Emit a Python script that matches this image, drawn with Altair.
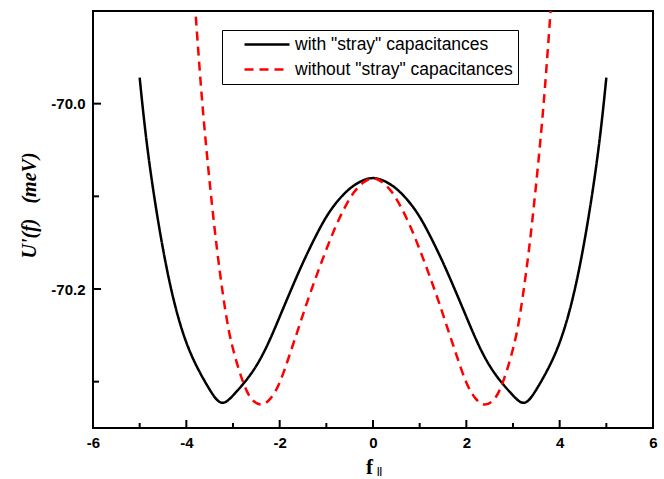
import altair as alt
import pandas as pd

# ---- data ----
F_WITH = [-5.0, -4.9, -4.75, -4.5, -4.25, -4.0, -3.75, -3.5, -3.25, -3.0, -2.75, -2.5,
          -2.25, -2.0, -1.75, -1.5, -1.25, -1.0, -0.75, -0.5, -0.25, 0.0,
          0.25, 0.5, 0.75, 1.0, 1.25, 1.5, 1.75, 2.0, 2.25, 2.5, 2.75, 3.0, 3.25,
          3.5, 3.75, 4.0, 4.25, 4.5, 4.75, 4.9, 5.0]
U_WITH = [-69.972, -70.022, -70.082, -70.160, -70.219, -70.260, -70.287, -70.309, -70.328,
          -70.315, -70.301, -70.284, -70.260, -70.230, -70.200, -70.171, -70.145, -70.121,
          -70.104, -70.091, -70.083, -70.079,
          -70.083, -70.091, -70.104, -70.121, -70.145, -70.171, -70.200, -70.230, -70.260,
          -70.284, -70.301, -70.315, -70.328, -70.309, -70.287, -70.260, -70.219, -70.160,
          -70.082, -70.022, -69.972]

F_WITHOUT = [-3.82, -3.72, -3.65, -3.56, -3.46, -3.34, -3.22, -3.1, -2.95, -2.8, -2.7, -2.6,
             -2.4, -2.2, -2.0, -1.8, -1.6, -1.4, -1.2, -1.0, -0.8, -0.6, -0.4, -0.2, 0.0,
             0.2, 0.4, 0.6, 0.8, 1.0, 1.2, 1.4, 1.6, 1.8, 2.0, 2.2, 2.4, 2.6, 2.7, 2.8,
             2.95, 3.1, 3.22, 3.34, 3.46, 3.56, 3.65, 3.72, 3.82]
U_WITHOUT = [-69.890, -69.960, -70.005, -70.055, -70.105, -70.160, -70.205, -70.245, -70.275,
             -70.299, -70.311, -70.320, -70.327, -70.320, -70.303, -70.273, -70.243, -70.212,
             -70.184, -70.157, -70.132, -70.111, -70.094, -70.084, -70.079,
             -70.084, -70.094, -70.111, -70.132, -70.157, -70.184, -70.212, -70.243, -70.273,
             -70.303, -70.320, -70.327, -70.320, -70.311, -70.299, -70.275, -70.245, -70.205,
             -70.160, -70.105, -70.055, -70.005, -69.960, -69.890]

SERIES = ['with "stray" capacitances', 'without "stray" capacitances']
COLORS = ["#000000", "#ff0000"]
DASHES = [[1, 0], [9, 6]]

X_MAJOR = [-6, -4, -2, 0, 2, 4, 6]
X_MINOR = [-5, -3, -1, 1, 3, 5]
Y_MAJOR = [-70.0, -70.2]
Y_MINOR = [-70.1, -70.3]
X_DOMAIN = [-6, 6]
Y_DOMAIN = [-70.35, -69.90]

X_TITLE = "f"
X_SUB = "||"
Y_TITLE = "U'(f)\u00a0\u00a0\u00a0(meV)"

rows = []
for f, u in zip(F_WITH, U_WITH):
    rows.append({"f": f, "U": u, "series": SERIES[0]})
for f, u in zip(F_WITHOUT, U_WITHOUT):
    rows.append({"f": f, "U": u, "series": SERIES[1]})
df = pd.DataFrame(rows)

W, H = 560, 417
xs = alt.Scale(domain=X_DOMAIN, nice=False, zero=False)
ys = alt.Scale(domain=Y_DOMAIN, nice=False, zero=False)

legend = alt.Legend(
    title=None, orient="none", legendX=129, legendY=19,
    symbolType="stroke", symbolSize=2025, symbolStrokeWidth=2.5,
    clipHeight=19, rowPadding=6, padding=5,
    strokeColor="black", fillColor="white",
    labelFont="Liberation Sans", labelFontSize=17.5, labelColor="black",
    labelLimit=400, symbolOffset=16, labelOffset=4,
)

lines = alt.Chart(df).mark_line(strokeWidth=2.5, interpolate="basis", clip=True).encode(
    x=alt.X("f:Q", scale=xs, axis=alt.Axis(
        values=X_MAJOR, format="d", ticks=False, domain=False, grid=False,
        labelFont="Liberation Sans", labelFontWeight="bold", labelFontSize=15,
        labelColor="black", labelPadding=7, labelFlush=False,
        title=X_TITLE, titleFont="Liberation Serif", titleFontWeight="bold",
        titleFontSize=21, titleColor="black", titlePadding=6, titleX=276)),
    y=alt.Y("U:Q", scale=ys, axis=alt.Axis(
        values=Y_MAJOR, format=".1f", ticks=False, domain=False, grid=False,
        labelFont="Liberation Sans", labelFontWeight="bold", labelFontSize=15,
        labelColor="black", labelPadding=8, labelFlush=False,
        title=Y_TITLE, titleFont="Liberation Serif", titleFontWeight="bold",
        titleFontStyle="italic", titleFontSize=20, titleColor="black", titlePadding=11,
        titleY=194)),
    color=alt.Color("series:N", scale=alt.Scale(domain=SERIES, range=COLORS), legend=legend),
    strokeDash=alt.StrokeDash("series:N", scale=alt.Scale(domain=SERIES, range=DASHES), legend=legend),
)

xmaj = pd.DataFrame({"v": X_MAJOR})
xmin = pd.DataFrame({"v": X_MINOR})
ymaj = pd.DataFrame({"v": Y_MAJOR})
ymin = pd.DataFrame({"v": Y_MINOR})


def xticks(d, size):
    return alt.Chart(d).mark_rule(color="black", strokeWidth=2).encode(
        x=alt.X("v:Q", scale=xs, axis=None), y=alt.value(H), y2=alt.value(H - size))


def yticks(d, size):
    return alt.Chart(d).mark_rule(color="black", strokeWidth=2).encode(
        y=alt.Y("v:Q", scale=ys, axis=None), x=alt.value(0), x2=alt.value(size))


sub = alt.Chart(pd.DataFrame({"t": [X_SUB]})).mark_text(
    text=X_SUB, font="Liberation Sans", fontSize=9, fontWeight="bold", color="black",
    align="left", baseline="middle").encode(
    x=alt.value(284), y=alt.value(H + 43))

chart = alt.layer(
    lines,
    xticks(xmaj, 8), xticks(xmin, 5),
    yticks(ymaj, 8), yticks(ymin, 6),
    sub,
).resolve_axis(
    x="independent", y="independent"
).properties(
    width=W, height=H,
    autosize=alt.AutoSizeParams(type="none"),
    padding={"left": 93, "top": 11, "right": 11, "bottom": 51},
    background="white",
).configure(
    view=alt.ViewConfig(stroke="black", strokeWidth=2),
    locale={"number": {"decimal": ".", "thousands": ",", "grouping": [3],
                       "currency": ["$", ""], "minus": "-"}},
)

chart.save("out.html", embed_options={"renderer": "svg", "actions": False})
